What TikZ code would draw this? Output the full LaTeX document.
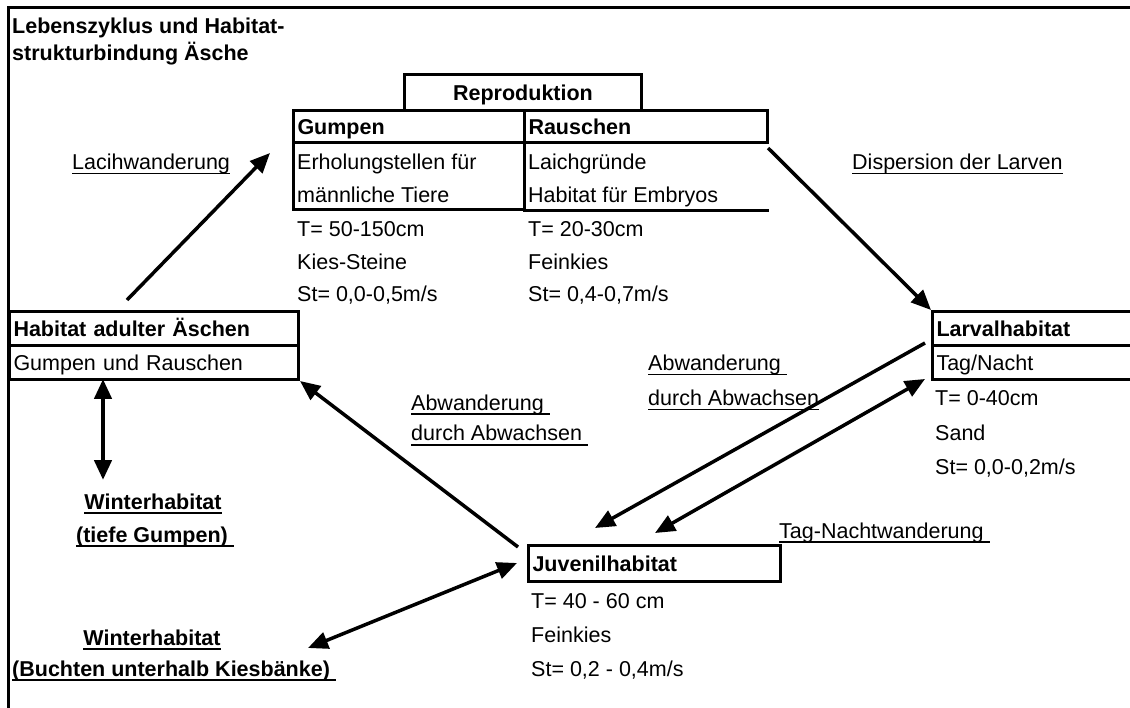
\documentclass[tikz,border=0pt]{standalone}
\usepackage{fontspec}
\setmainfont{Liberation Sans}
\usetikzlibrary{arrows.meta}

% underlined text, rule a little below the baseline
\newsavebox{\ulbox}
\newcommand{\ulabel}[1]{\sbox\ulbox{#1}\rlap{\rule[-4.5pt]{\wd\ulbox}{1.8pt}}\usebox\ulbox}

\begin{document}
\begin{tikzpicture}[x=1pt, y=-1pt, font=\fontsize{21.5}{26}\selectfont]
	\tikzstyle{boxStyle} = [draw, line width=3pt, anchor=north west, inner xsep=4pt, inner ysep=0pt, text height=15.5pt, text depth=0pt, align=left]
	\tikzstyle{textStyle} = [anchor=base west, inner sep=0pt]
	\tikzstyle{arrowStyle} = [line width=3.5pt, -{Triangle[length=20pt, width=17pt]}]
	\tikzstyle{twoWayStyle} = [line width=3.5pt, {Triangle[length=20pt, width=17pt]}-{Triangle[length=20pt, width=17pt]}]
	\useasboundingbox (0,0) rectangle (1130,708);
	\draw[line width=3pt] (8,708) -- (8,8) -- (1130,8);
	\node[textStyle] (title1) at (12,34) {\textbf{Lebenszyklus und Habitat-}};
	\node[textStyle] (title2) at (12,61) {\textbf{strukturbindung Äsche}};
	% Reproduktion
	\node[boxStyle, align=center, text width=229pt, minimum height=36pt] (repro) at (403,73) {\textbf{Reproduktion}};
	\node[boxStyle, text width=223pt, minimum height=32pt] (gumpenHead) at (292,109) {\textbf{Gumpen}};
	\node[boxStyle, text width=235pt, minimum height=32pt] (rauschenHead) at (523,109) {\textbf{Rauschen}};
	\node[boxStyle, text width=223pt, minimum height=67pt] (gumpenBody) at (292,141) {};
	\node[boxStyle, draw=none, text width=235pt, minimum height=67pt] (rauschenBody) at (523,141) {};
	\draw[line width=3pt] (rauschenBody.south west) -- (rauschenBody.south east);
	\node[textStyle] (gumpen1) at (297,170) {Erholungstellen für};
	\node[textStyle] (gumpen2) at (297,203) {männliche Tiere};
	\node[textStyle] (gumpen3) at (297,237) {T= 50-150cm};
	\node[textStyle] (gumpen4) at (297,270) {Kies-Steine};
	\node[textStyle] (gumpen5) at (297,302) {St= 0,0-0,5m/s};
	\node[textStyle] (rauschen1) at (528,170) {Laichgründe};
	\node[textStyle] (rauschen2) at (528,203) {Habitat für Embryos};
	\node[textStyle] (rauschen3) at (528,237) {T= 20-30cm};
	\node[textStyle] (rauschen4) at (528,270) {Feinkies};
	\node[textStyle] (rauschen5) at (528,302) {St= 0,4-0,7m/s};
	% Adulte
	\node[boxStyle, text width=281pt, minimum height=34pt] (adultHead) at (8,310) {\textbf{Habitat adulter Äschen}};
	\node[boxStyle, text width=281pt, minimum height=34pt] (adultBody) at (8,344) {Gumpen und Rauschen};
	% Larven
	\node[boxStyle, text width=197pt, minimum height=34pt] (larvalHead) at (931,310) {\textbf{Larvalhabitat}};
	\node[boxStyle, text width=197pt, minimum height=34pt] (larvalBody) at (931,344) {Tag/Nacht};
	\node[textStyle] (larval1) at (935,406) {T= 0-40cm};
	\node[textStyle] (larval2) at (935,440) {Sand};
	\node[textStyle] (larval3) at (935,474) {St= 0,0-0,2m/s};
	% Juvenile
	\node[boxStyle, text width=244pt, minimum height=36pt] (juvHead) at (527,544) {\textbf{Juvenilhabitat}};
	\node[textStyle] (juv1) at (531,608) {T= 40 - 60 cm};
	\node[textStyle] (juv2) at (531,642) {Feinkies};
	\node[textStyle] (juv3) at (531,676) {St= 0,2 - 0,4m/s};
	% Winter
	\node[anchor=base, inner sep=0pt] (winterA1) at (153,509) {\ulabel{\textbf{Winterhabitat}}};
	\node[anchor=base, inner sep=0pt] (winterA2) at (155,542) {\ulabel{\textbf{(tiefe Gumpen)\ }}};
	\node[anchor=base, inner sep=0pt] (winterB1) at (152,645) {\ulabel{\textbf{Winterhabitat}}};
	\node[textStyle] (winterB2) at (12,676) {\ulabel{\textbf{(Buchten unterhalb Kiesbänke)\ }}};
	% Wanderungen
	\node[textStyle] (laich) at (72,170) {\ulabel{Lacihwanderung}};
	\node[textStyle] (dispersion) at (852,170) {\ulabel{Dispersion der Larven}};
	\node[textStyle] (abwR1) at (648,371) {\ulabel{Abwanderung\ }};
	\node[textStyle] (abwR2) at (648,406) {\ulabel{durch Abwachsen}};
	\node[textStyle] (abwL1) at (411,410) {\ulabel{Abwanderung\ }};
	\node[textStyle] (abwL2) at (411,441) {\ulabel{durch Abwachsen\ }};
	\node[textStyle] (tagNacht) at (779,538) {\ulabel{Tag-Nachtwanderung\ }};
	\coordinate (adultUp) at (127,300);
	\coordinate (reproIn) at (270,153);
	\coordinate (reproOut) at (768,148);
	\coordinate (juvCorner) at (518,547);
	\coordinate (larvalOut) at (925,343);
	\coordinate (juvInA) at (595,528);
	\coordinate (juvInB) at (655,533);
	\coordinate (larvalIn) at (925,379);
	\coordinate (juvLeft) at (517,563);
	\coordinate (buchten) at (308,648);
	\coordinate (adultDown) at (103,379);
	\coordinate (tiefe) at (103,480);
	\draw[arrowStyle] (adultUp) -- (reproIn);
	\draw[arrowStyle] (reproOut) -- (larvalHead.north west);
	\draw[arrowStyle] (juvCorner) -- (adultBody.south east);
	\draw[arrowStyle] (larvalOut) -- (juvInA);
	\draw[twoWayStyle] (juvInB) -- (larvalIn);
	\draw[twoWayStyle] (juvLeft) -- (buchten);
	\draw[twoWayStyle, line width=4.5pt] (adultDown) -- (tiefe);
\end{tikzpicture}
\end{document}
